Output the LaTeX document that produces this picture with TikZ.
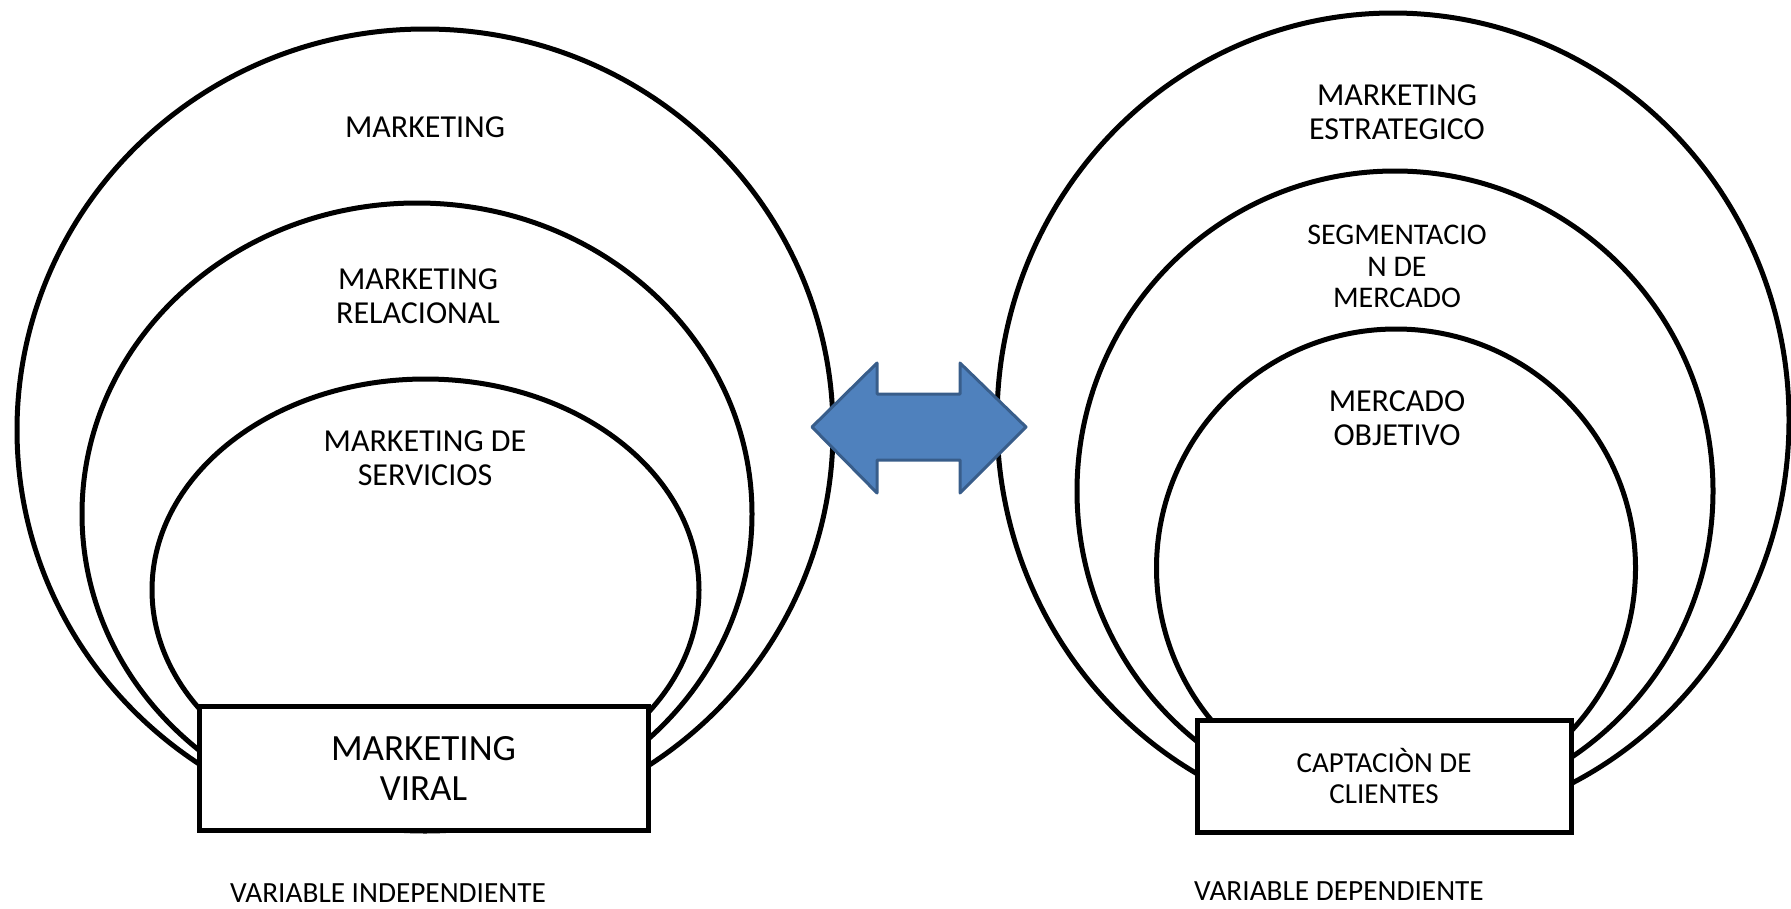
\documentclass[tikz,border=0pt]{standalone}
\usepackage{fontspec}
\setmainfont{Carlito}
\definecolor{arrowfill}{HTML}{4F81BD}
\definecolor{arrowline}{HTML}{385D8A}
\tikzset{
  ring/.style={draw=black, line width=5pt},
  label/.style={align=center, inner sep=0pt, font=\fontsize{32}{34}\selectfont},
  basebox/.style={draw=black, fill=white, line width=5pt, align=center, inner sep=0pt},
  caption/.style={inner sep=0pt, font=\fontsize{29.3}{32}\selectfont},
}
\begin{document}
\begin{tikzpicture}[x=1pt, y=-1pt]
\useasboundingbox (0,0) rectangle (1791,908);

% independent variable: nested fields
\draw[ring] (425,430) ellipse [x radius=408pt, y radius=401pt];
\draw[ring] (417,514) ellipse [x radius=335pt, y radius=311pt];
\draw[ring] (425.5,590) ellipse [x radius=273.5pt, y radius=211pt];

% dependent variable: nested fields
\draw[ring] (1393,420) ellipse [x radius=396pt, y radius=407pt];
\draw[ring] (1395,491) ellipse [x radius=318pt, y radius=320pt];
\draw[ring] (1396,568) ellipse [x radius=239.5pt, y radius=239pt];

% base boxes
\node[basebox, minimum width=449pt, minimum height=124pt,
      font=\fontsize{37}{40}\selectfont] (viral) at (423.5,768) {MARKETING\\VIRAL};
\node[basebox, minimum width=374pt, minimum height=112pt,
      font=\fontsize{29}{31}\selectfont] (captacion) at (1384,776) {CAPTACIÒN DE\\CLIENTES};

% labels of the fields
\node[label] (mkt) at (425,127) {MARKETING};
\node[label] (rel) at (418,296) {MARKETING\\RELACIONAL};
\node[label] (serv) at (425,458) {MARKETING DE\\SERVICIOS};
\node[label] (estr) at (1397,112) {MARKETING\\ESTRATEGICO};
\node[label, font=\fontsize{30}{31.5}\selectfont] (seg) at (1397,266.5) {SEGMENTACIO\\N DE\\MERCADO};
\node[label] (obj) at (1397,418.5) {MERCADO\\OBJETIVO};

% captions
\node[caption] (indep) at (388,893) {VARIABLE INDEPENDIENTE};
\node[caption] (dep) at (1339,891) {VARIABLE DEPENDIENTE};

% double arrow between the two variables
\draw[fill=arrowfill, draw=arrowline, line width=3pt, line join=round]
  (812,427) -- (877,363) -- (877,394) -- (960,394) -- (960,363) -- (1026,427)
  -- (960,493) -- (960,460) -- (877,460) -- (877,493) -- cycle;
\end{tikzpicture}
\end{document}
